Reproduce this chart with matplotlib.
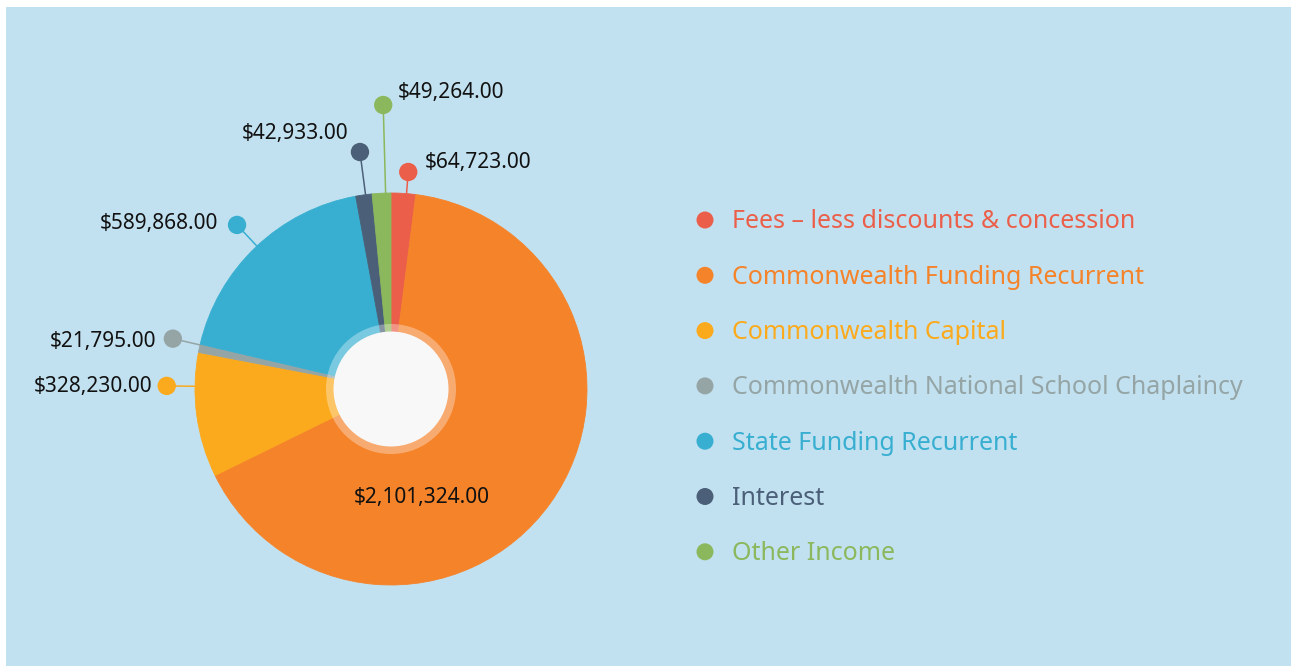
import numpy as np
import matplotlib
matplotlib.use("Agg")
import matplotlib.pyplot as plt
from matplotlib.patches import Circle, Rectangle

# ---------------- data ----------------
categories = [
    "Fees \u2013 less discounts & concession",
    "Commonwealth Funding Recurrent",
    "Commonwealth Capital",
    "Commonwealth National School Chaplaincy",
    "State Funding Recurrent",
    "Interest",
    "Other Income",
]
values = [64723, 2101324, 328230, 21795, 589868, 42933, 49264]
value_labels = ["$64,723.00", "$2,101,324.00", "$328,230.00", "$21,795.00",
                "$589,868.00", "$42,933.00", "$49,264.00"]

# ---------------- styles ----------------
colors = ["#EB5F4A", "#F5832A", "#FBAA1D", "#95A5A6", "#38AFD1", "#4B6078", "#8BB85C"]
BG = "#C2E1F0"
W, H = 1291, 666
FONT = "Noto Sans"

fig = plt.figure(figsize=(W / 100, H / 100), dpi=100)
fig.patch.set_facecolor("white")
ax = fig.add_axes([0, 0, 1, 1])

def Y(py):  # convert pixel-from-top to data y
    return H - py

ax.add_patch(Rectangle((6, 0), W - 6, Y(7), facecolor=BG, edgecolor="none", zorder=0))

cx, cy, R = 391, Y(389), 196
wedges, _ = ax.pie(values, colors=colors, startangle=90, counterclock=False,
                   center=(cx, cy), radius=R, wedgeprops=dict(linewidth=0.6))
for w, c in zip(wedges, colors):
    w.set_edgecolor(c)
    w.set_zorder(2)

# inner translucent ring + hole
ax.add_patch(Circle((cx, cy), 65, facecolor="white", alpha=0.33, edgecolor="none", zorder=3))
ax.add_patch(Circle((cx, cy), 57.5, facecolor="#F8F8F8", edgecolor="none", zorder=4))

# ---------------- data labels with connectors ----------------
total = float(sum(values))
cum = np.cumsum([0] + values[:-1])
mid_angles = [(c + v / 2) / total * 360 for c, v in zip(cum, values)]  # clockwise from top

# per-label layout: (angle nudge, dot radius, text x, text baseline px from top, ha)
layout = {
    0: (0.9, 217.7, 425, 168, "left"),
    2: (8.5, 224.3, 152, 392, "right"),
    3: (1.0, 223.9, 156, 347, "right"),
    4: (0.4, 225.0, 218, 229, "right"),
    5: (0.5, 239.0, 348, 139, "right"),
    6: (1.2, 284.1, 398, 98, "left"),
}
for i, (dn, rd, tx, ty, ha) in layout.items():
    a = np.deg2rad(mid_angles[i] + dn)
    sx, sy = cx + R * np.sin(a), cy + R * np.cos(a)
    dx, dy = cx + rd * np.sin(a), cy + rd * np.cos(a)
    ax.plot([sx, dx], [sy, dy], color=colors[i], lw=1.1, zorder=1, solid_capstyle="butt")
    ax.scatter([dx], [dy], s=175, color=colors[i], edgecolors="none", zorder=5)
    ax.text(tx, Y(ty), value_labels[i], ha=ha, va="baseline", fontsize=15,
            family=FONT, color="#111111", zorder=6)

# label inside the large slice
ax.text(422, Y(503), value_labels[1], ha="center", va="baseline", fontsize=15,
        family=FONT, color="#111111", zorder=6)

# ---------------- legend ----------------
leg_x_dot, leg_x_txt = 705, 732
leg_y0, leg_dy = 220, 55.3
for i, (lab, col) in enumerate(zip(categories, colors)):
    yy = leg_y0 + i * leg_dy
    ax.scatter([leg_x_dot], [Y(yy)], s=150, color=col, edgecolors="none", zorder=5)
    ax.text(leg_x_txt, Y(yy + 8.5), lab, ha="left", va="baseline", fontsize=18,
            family=FONT, color=col, zorder=6)

ax.set_xlim(0, W)
ax.set_ylim(0, H)
ax.set_aspect("auto")
ax.axis("off")
fig.savefig("out.png", dpi=100, facecolor=fig.get_facecolor())
